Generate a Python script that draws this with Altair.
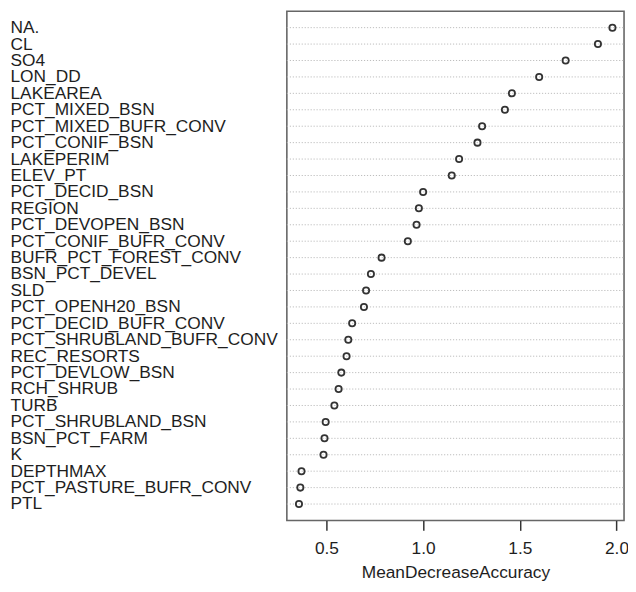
import altair as alt
import pandas as pd

variables = [
    "NA.", "CL", "SO4", "LON_DD", "LAKEAREA", "PCT_MIXED_BSN",
    "PCT_MIXED_BUFR_CONV", "PCT_CONIF_BSN", "LAKEPERIM", "ELEV_PT",
    "PCT_DECID_BSN", "REGION", "PCT_DEVOPEN_BSN", "PCT_CONIF_BUFR_CONV",
    "BUFR_PCT_FOREST_CONV", "BSN_PCT_DEVEL", "SLD", "PCT_OPENH20_BSN",
    "PCT_DECID_BUFR_CONV", "PCT_SHRUBLAND_BUFR_CONV", "REC_RESORTS",
    "PCT_DEVLOW_BSN", "RCH_SHRUB", "TURB", "PCT_SHRUBLAND_BSN",
    "BSN_PCT_FARM", "K", "DEPTHMAX", "PCT_PASTURE_BUFR_CONV", "PTL",
]
mean_decrease_accuracy = [
    1.979, 1.904, 1.737, 1.600, 1.459, 1.423,
    1.305, 1.281, 1.186, 1.148,
    1.000, 0.978, 0.966, 0.921,
    0.785, 0.730, 0.705, 0.694,
    0.633, 0.613, 0.604,
    0.577, 0.563, 0.541, 0.496,
    0.490, 0.485, 0.371, 0.365, 0.358,
]
x_ticks = [0.5, 1.0, 1.5, 2.0]
x_domain = [0.2953, 2.039]

df = pd.DataFrame({"var": variables, "val": mean_decrease_accuracy})

W, H = 341, 515
FONT = "Liberation Sans"
TXT = "#1e1e1e"

y_enc = alt.Y(
    "var:N",
    sort=None,
    scale=alt.Scale(type="point", padding=1),
    axis=alt.Axis(
        title=None, ticks=False, domain=False, grid=False,
        labelAlign="left", labelBaseline="middle", labelPadding=280,
        labelFont=FONT, labelFontSize=17.5, labelColor=TXT,
        labelOverlap=False, labelLimit=0,
    ),
)

grid = alt.Chart(df).mark_rule(
    color="#bdbdbd", strokeWidth=1, strokeDash=[1.2, 1.8]
).encode(
    x=alt.value(0), x2=alt.value(W), y=y_enc
)

points = alt.Chart(df).mark_point(
    shape="circle", filled=False, color="#333333", strokeWidth=1.8, size=40, opacity=1
).encode(
    x=alt.X(
        "val:Q",
        scale=alt.Scale(domain=x_domain, zero=False, nice=False),
        axis=alt.Axis(
            title="MeanDecreaseAccuracy", values=x_ticks, format=".1f",
            grid=False, domain=False, tickSize=10, tickColor="#333333",
            tickWidth=1.5, labelPadding=9, labelFont=FONT, labelFontSize=17.5,
            labelColor=TXT, titleFont=FONT, titleFontSize=17.5,
            titleFontWeight="normal", titleColor=TXT, titlePadding=7,
        ),
    ),
    y=y_enc,
)

chart = alt.layer(grid, points).properties(
    width=W, height=H,
    autosize=alt.AutoSizeParams(type="none"),
    padding={"left": 282, "top": 0, "right": 4, "bottom": 61},
    background="white",
).configure_view(stroke="#666666", strokeWidth=1.6)

chart.save("out.html", embed_options={"renderer": "svg", "actions": False})
